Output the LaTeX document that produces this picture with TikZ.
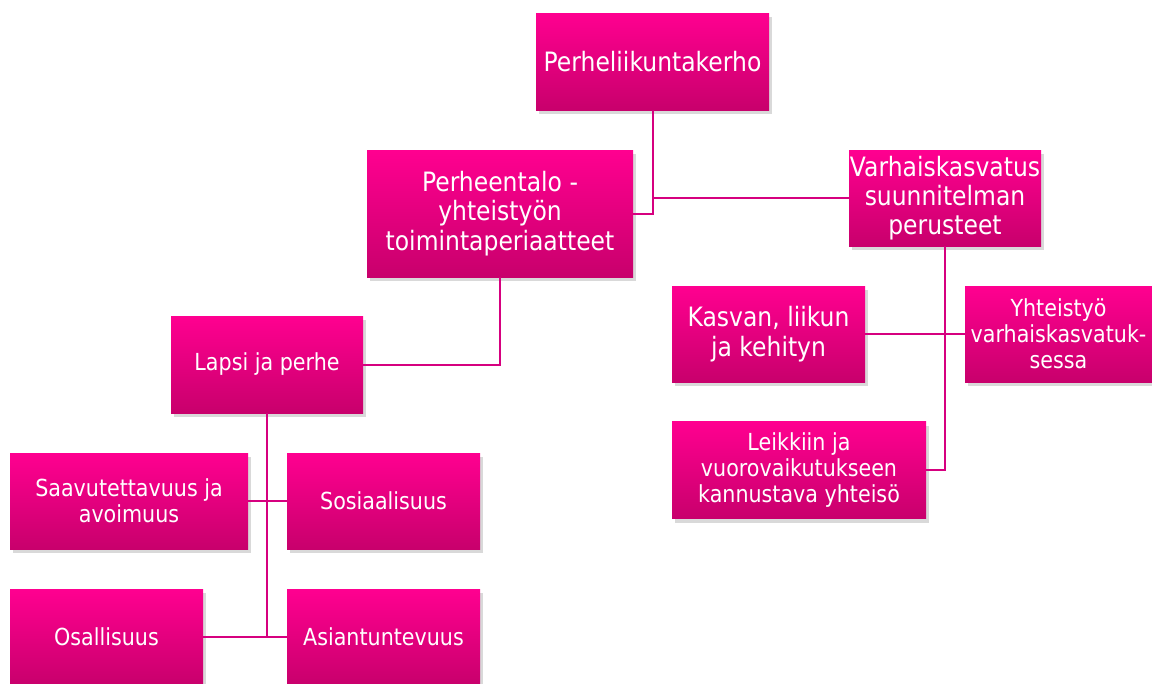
\documentclass[tikz,border=0pt]{standalone}
\usepackage{fontspec}
\setmainfont{DejaVu Sans}[FakeStretch=0.88]
\usetikzlibrary{shadows, positioning, calc}

\definecolor{pinktop}{RGB}{255,0,144}
\definecolor{pinkbot}{RGB}{200,0,108}
\definecolor{pinkline}{RGB}{214,0,127}

\begin{document}
\begin{tikzpicture}[x=0.75pt, y=-0.75pt,
    box/.style={rectangle, inner sep=0pt, align=center, text=white,
        top color=pinktop, bottom color=pinkbot, draw=none,
        drop shadow={opacity=0.3, shadow xshift=2pt, shadow yshift=-3pt},
        font=\fontsize{20}{22}\selectfont},
    smallbox/.style={box, font=\fontsize{17.6}{19.5}\selectfont},
    conn/.style={draw=pinkline, line width=1.5pt}]
    \useasboundingbox (0,0) rectangle (1152,683);

    \node[box, minimum width=233*0.75pt, minimum height=97*0.75pt] at (652.5, 61.5) (kerho) {Perheliikuntakerho};
    \node[box, minimum width=266*0.75pt, minimum height=127*0.75pt] at (500, 213.5) (talo) {Perheentalo -\\yhteistyön\\toimintaperiaatteet};
    \node[box, minimum width=192*0.75pt, minimum height=96*0.75pt] at (945, 198) (vasu) {Varhaiskasvatus\\suunnitelman\\perusteet};

    \node[smallbox, minimum width=192*0.75pt, minimum height=97*0.75pt] at (267, 364.5) (lapsi) {Lapsi ja perhe};
    \node[box, minimum width=193*0.75pt, minimum height=96*0.75pt] at (768.5, 334) (kasvan) {Kasvan, liikun\\ja kehityn};
    \node[smallbox, minimum width=187*0.75pt, minimum height=96*0.75pt] at (1058.5, 334) (yhteis) {Yhteistyö\\varhaiskasvatuk-\\sessa};
    \node[smallbox, minimum width=254*0.75pt, minimum height=97*0.75pt] at (799, 470) (leikki) {Leikkiin ja\\vuorovaikutukseen\\kannustava yhteisö};

    \node[smallbox, minimum width=238*0.75pt, minimum height=96*0.75pt] at (129, 501) (saavut) {Saavutettavuus ja\\avoimuus};
    \node[smallbox, minimum width=193*0.75pt, minimum height=96*0.75pt] at (383.5, 501) (sosiaal) {Sosiaalisuus};
    \node[smallbox, minimum width=193*0.75pt, minimum height=96*0.75pt] at (106.5, 637) (osall) {Osallisuus};
    \node[smallbox, minimum width=193*0.75pt, minimum height=96*0.75pt] at (383.5, 637) (asiant) {Asiantuntevuus};

    % connectors
    \draw[conn] (kerho.south) |- (talo.east);
    \draw[conn] (kerho.south |- vasu.west) -- (vasu.west);
    \draw[conn] (talo.south) |- (lapsi.east);
    \draw[conn] (vasu.south) |- (leikki.east);
    \draw[conn] (kasvan.east) -- (yhteis.west);
    \draw[conn] (lapsi.south) |- (osall.east);
    \draw[conn] (saavut.east) -- (sosiaal.west);
    \draw[conn] (lapsi.south |- asiant.west) -- (asiant.west);
\end{tikzpicture}
\end{document}
